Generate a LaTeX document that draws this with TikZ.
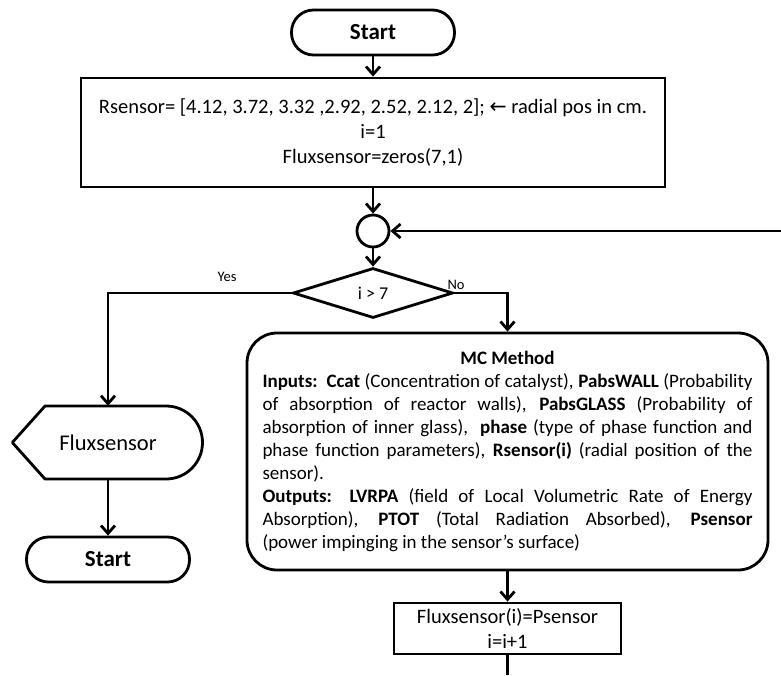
\documentclass[tikz,border=0pt]{standalone}
\usepackage{fontspec}
\setmainfont{Carlito}
\newfontfamily\arrowfont{DejaVu Sans}
\usetikzlibrary{arrows.meta,shapes.geometric}
\tikzset{
  edge/.style={line width=2.8pt},
  flow/.style={edge,-{Straight Barb[length=8pt,width=14pt]}},
  terminal/.style={draw,edge,rounded corners=22pt,minimum width=163pt,minimum height=45pt,
    inner sep=0pt,font=\fontsize{23}{26}\selectfont\bfseries},
  procbox/.style={draw,edge,inner sep=0pt,align=center,font=\fontsize{20.5}{25}\selectfont},
  decision/.style={draw,diamond,edge,minimum width=160pt,minimum height=50pt,inner sep=0pt,
    font=\fontsize{18}{20}\selectfont},
  mcbox/.style={draw,edge,rounded corners=30pt,minimum width=521pt,minimum height=237pt,
    inner xsep=14pt,text width=490pt,align=justify,font=\fontsize{19}{23}\selectfont},
  tag/.style={inner sep=0pt,font=\fontsize{14.5}{16}\selectfont}
}
\begin{document}
\begin{tikzpicture}[x=1pt,y=-1pt]
	\useasboundingbox (0,0) rectangle (781,675);
	% main column
	\node[terminal] (start) at (373,32.5) {Start};
	\node[procbox,minimum width=584pt,minimum height=109pt] (init) at (373,132.5)
		{Rsensor= [4.12, 3.72, 3.32 ,2.92, 2.52, 2.12, 2]; {\arrowfont ←} radial pos in cm.\\ i=1\\ Fluxsensor=zeros(7,1)};
	\node[draw,circle,edge,minimum size=32pt,inner sep=0pt] (join) at (373,231) {};
	\node[decision] (test) at (373,293) {i > 7};
	\node[mcbox] (mc) at (507.5,451.5) {%
		\centerline{\textbf{MC Method}}\par
		\textbf{Inputs:}\ \ \textbf{Ccat} (Concentration of catalyst), \textbf{PabsWALL} (Probability\linebreak
		of absorption of reactor walls), \textbf{PabsGLASS} (Probability of\linebreak
		absorption of inner glass),\ \ \textbf{phase} (type of phase function and\linebreak
		phase function parameters), \textbf{Rsensor(i)} (radial position of the\linebreak
		sensor).\par
		\textbf{Outputs: LVRPA} (field of Local Volumetric Rate of Energy\linebreak
		Absorption), \textbf{PTOT} (Total Radiation Absorbed), \textbf{Psensor}\linebreak
		(power impinging in the sensor’s surface)};
	\node[procbox,minimum width=227pt,minimum height=51pt] (upd) at (507.5,628.5)
		{Fluxsensor(i)=Psensor\\ i=i+1};
	% output branch
	\node[minimum width=191pt,minimum height=73pt,inner sep=0pt,
		font=\fontsize{22.5}{26}\selectfont] (out) at (108,442.5) {Fluxsensor};
	\draw[edge,line join=round] (out.west) -- (45,406) -- (166,406)
		arc[start angle=-90,end angle=90,radius=36.5] -- (45,479) -- cycle;
	\node[terminal] (stop) at (108,559.5) {Start};
	% connectors
	\foreach \a/\b in {start/init, init/join, join/test, out/stop, mc/upd}{
		\draw[flow] (\a) -- (\b);
	}
	\draw[flow] (test.west) -| (out.north);
	\draw[flow] (test.east) -| (mc.north);
	\node[tag] (yes) at (227,277) {Yes};
	\node[tag] (no) at (456,285) {No};
	\coordinate (loopin) at (781,231);
	\coordinate (loopout) at (507.5,675);
	\draw[flow] (loopin) -- (join);
	\draw[edge] (upd) -- (loopout);
\end{tikzpicture}
\end{document}
